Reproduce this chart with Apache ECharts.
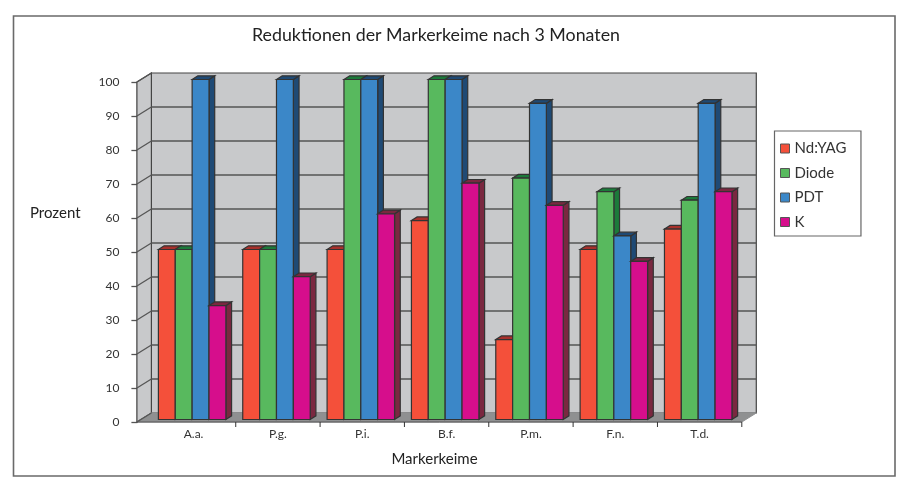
<!DOCTYPE html>
<html>
<head>
<meta charset="utf-8">
<title>Reduktionen der Markerkeime</title>
<script src="https://cdn.jsdelivr.net/npm/echarts@6/dist/echarts.min.js"></script>
<style>
  html, body { margin: 0; padding: 0; background: #fff; }
  #chart { width: 914px; height: 482px; }
</style>
</head>
<body>
<div id="chart"></div>
<script>
// Werte
var categories = ['A.a.', 'P.g.', 'P.i.', 'B.f.', 'P.m.', 'F.n.', 'T.d.'];
var ndYag = [50, 50, 50, 58.5, 23.5, 50, 56];
var diode = [50, 50, 100, 100, 71, 67, 64.5];
var pdt = [100, 100, 100, 100, 93, 54, 93];
var k = [33.5, 42, 60.5, 69.5, 63, 46.5, 67];
var yTicks = [0, 10, 20, 30, 40, 50, 60, 70, 80, 90, 100];

var font = 'Lato';
var lineColor = '#333';
var depthX = 14.5, depthY = -9;       // Tiefe der Rueckwand
var barDepthX = 5.7, barDepthY = -3.7; // Tiefe eines Balkens
var barLift = -2.5;                    // Balken stehen etwas hinter der Vorderkante

function poly(points, fill, stroke, width) {
    return {
        type: 'polygon',
        shape: { points: points },
        style: { fill: fill, stroke: stroke || lineColor, lineWidth: width || 1.2 }
    };
}

function seg(x1, y1, x2, y2, color, width) {
    return {
        type: 'line',
        shape: { x1: x1, y1: y1, x2: x2, y2: y2 },
        style: { stroke: color, lineWidth: width }
    };
}

// Rueckwand, Seitenwand, Boden und Gitterlinien
function renderWalls(params, api) {
    var g = params.coordSys;
    var left = g.x, right = g.x + g.width;
    var bottom = g.y + g.height, top = g.y;
    var fl = left - depthX; // vordere linke Ecke
    var children = [
        poly([[left, top + depthY], [right + depthX, top + depthY], [right + depthX, bottom + depthY], [left, bottom + depthY]], '#c8c9cb', '#444', 1.2),
        poly([[fl, top], [left, top + depthY], [left, bottom + depthY], [fl, bottom]], '#c8c9cb', '#444', 1.2),
        poly([[fl, bottom], [left, bottom + depthY], [right + depthX, bottom + depthY], [right, bottom]], '#8f9091', '#8f9091', 1)
    ];
    yTicks.forEach(function (t) {
        var y = api.coord([0, t])[1];
        if (t > 0 && t < 100) {
            children.push(seg(left, y + depthY, right + depthX, y + depthY, '#555', 1.3));
        }
        children.push(seg(fl, y, left, y + depthY, '#555', 1.3));
    });
    children.push(seg(fl, bottom, right, bottom, '#555', 1));
    var band = g.width / categories.length;
    for (var i = 1; i <= categories.length; i++) {
        children.push(seg(left + band * i, bottom, left + band * i, bottom + 5, lineColor, 1));
    }
    return { type: 'group', children: children };
}

function barRenderer(idx, sideColor, topColor) {
    return function (params, api) {
        var base = api.coord([api.value(0), 0]);
        var head = api.coord([api.value(0), api.value(1)]);
        var band = api.size([1, 0])[0];
        var w = band * 0.2;
        var x0 = base[0] - band / 2 + band * 0.083 + idx * w;
        var x1 = x0 + w;
        var yb = base[1] + barLift, yt = head[1] + barLift;
        return {
            type: 'group',
            children: [
                poly([[x1, yt], [x1 + barDepthX, yt + barDepthY], [x1 + barDepthX, yb + barDepthY], [x1, yb]], sideColor),
                poly([[x0, yt], [x0 + barDepthX, yt + barDepthY], [x1 + barDepthX, yt + barDepthY], [x1, yt]], topColor),
                poly([[x0, yt], [x1, yt], [x1, yb], [x0, yb]], api.visual('color'))
            ]
        };
    };
}

function makeBar(name, idx, values, color, sideColor, topColor) {
    return {
        name: name,
        type: 'custom',
        renderItem: barRenderer(idx, sideColor, topColor),
        itemStyle: { color: color },
        encode: { x: 0, y: 1 },
        data: values.map(function (v, i) { return [i, v]; }),
        z: 3 + idx
    };
}

var myChart = echarts.init(document.getElementById('chart'));
var option = {
    backgroundColor: '#fff',
    animation: false,
    textStyle: { fontFamily: font },
    title: [
        {
            text: 'Reduktionen der Markerkeime nach 3 Monaten',
            left: 431, top: 21, textAlign: 'center',
            textStyle: { fontFamily: font, fontSize: 17.8, fontWeight: 'normal', color: '#222' }
        },
        {
            text: 'Prozent',
            left: 25, top: 201,
            textStyle: { fontFamily: font, fontSize: 15, fontWeight: 'normal', color: '#222' }
        },
        {
            text: 'Markerkeime',
            left: 429.5, top: 447, textAlign: 'center',
            textStyle: { fontFamily: font, fontSize: 15, fontWeight: 'normal', color: '#222' }
        }
    ],
    legend: {
        orient: 'vertical',
        left: 774.5, top: 131,
        padding: [10, 14.5, 6.5, 5.5],
        borderColor: '#666', borderWidth: 1.2,
        itemWidth: 9, itemHeight: 9, itemGap: 9.5,
        icon: 'rect',
        itemStyle: { borderColor: '#555', borderWidth: 1 },
        textStyle: { fontFamily: font, fontSize: 15, color: '#333', padding: [0, 0, 0, 0] },
        data: ['Nd:YAG', 'Diode', 'PDT', 'K']
    },
    grid: { left: 151.4, top: 82, width: 590.4, height: 340 },
    xAxis: {
        type: 'category',
        data: categories,
        axisLine: { show: false },
        axisTick: { show: false },
        axisLabel: { color: '#333', fontFamily: font, fontSize: 12, margin: 6 }
    },
    yAxis: {
        type: 'value',
        min: 0, max: 100, interval: 10,
        offset: 14,
        axisLine: { show: true, lineStyle: { color: '#111', width: 1.2 } },
        axisTick: { show: true, length: 6, lineStyle: { color: '#555', width: 1.3 } },
        axisLabel: { color: '#333', fontFamily: font, fontSize: 12, margin: 18 },
        splitLine: { show: false }
    },
    series: [
        {
            type: 'custom',
            name: 'walls',
            renderItem: renderWalls,
            encode: { x: 0, y: 1 },
            data: [[0, 0]],
            silent: true,
            z: 1
        },
        makeBar('Nd:YAG', 0, ndYag, '#f4503a', '#8c2b2b', '#a8302b'),
        makeBar('Diode', 1, diode, '#58b95e', '#1c7a3a', '#1c7a3a'),
        makeBar('PDT', 2, pdt, '#3b87c8', '#1f4a75', '#1f4a75'),
        makeBar('K', 3, k, '#d60e8c', '#7a2840', '#7a2840')
    ],
    graphic: [
        {
            type: 'rect',
            shape: { x: 13.5, y: 16, width: 881.5, height: 460 },
            style: { fill: 'none', stroke: '#6a6a6a', lineWidth: 1.6 },
            silent: true
        }
    ]
};
myChart.setOption(option);
</script>
</body>
</html>
